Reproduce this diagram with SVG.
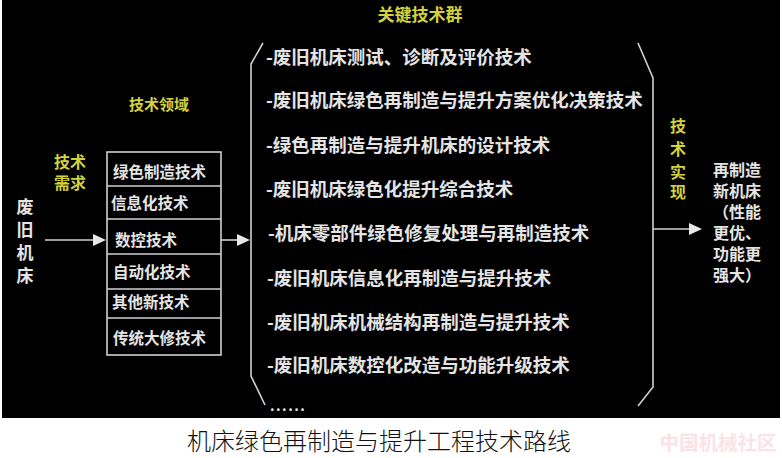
<svg xmlns="http://www.w3.org/2000/svg" width="782" height="458" viewBox="0 0 782 458">
<defs>
<style>
.w{fill:#e4e4e4;font-family:"Noto Sans CJK SC","Noto Sans",sans-serif;font-weight:700}
.y{fill:#d2d23c;font-family:"Noto Sans CJK SC","Noto Sans",sans-serif;font-weight:700}
.k{font-size:18.5px}
.t{font-size:15.5px}
.r{font-size:16px}
.ln{stroke:#d0d0d0;stroke-width:1.6;fill:none}
.ah{fill:#e8e8e8}
</style>
</defs>
<rect x="0" y="0" width="782" height="458" fill="#ffffff"/>
<rect x="2" y="0" width="778" height="418" fill="#000000"/>

<g id="title-key">
<text class="y" x="420" y="21" font-size="17" text-anchor="middle">关键技术群</text>
</g>
<g id="label-domain">
<text class="y" x="159" y="110" font-size="15" text-anchor="middle">技术领域</text>
</g>
<g id="label-demand">
<text class="y" font-size="16" text-anchor="middle"><tspan x="70" y="168">技术</tspan><tspan x="70" y="189">需求</tspan></text>
</g>
<g id="node-old">
<text class="w" font-size="17" text-anchor="middle"><tspan x="25" y="213">废</tspan><tspan x="25" y="236">旧</tspan><tspan x="25" y="259">机</tspan><tspan x="25" y="282">床</tspan></text>
</g>

<g id="node-domain">
<rect class="ln" x="107" y="152" width="114" height="203"/>
<line class="ln" x1="107" y1="186" x2="221" y2="186"/>
<line class="ln" x1="107" y1="219" x2="221" y2="219"/>
<line class="ln" x1="107" y1="254" x2="221" y2="254"/>
<line class="ln" x1="107" y1="289" x2="221" y2="289"/>
<line class="ln" x1="107" y1="318" x2="221" y2="318"/>
<text class="w t" x="113" y="178">绿色制造技术</text>
<text class="w t" x="111" y="209">信息化技术</text>
<text class="w t" x="115" y="246">数控技术</text>
<text class="w t" x="113" y="278">自动化技术</text>
<text class="w t" x="112" y="308">其他新技术</text>
<text class="w t" x="113" y="344">传统大修技术</text>
</g>

<g id="node-keytech">
<polyline class="ln" points="263,43 251,64 251,376 265,405"/>
<polyline class="ln" points="638,43 653,78 653,387 638,406"/>
<text class="w k" x="266" y="63.5">-废旧机床测试、诊断及评价技术</text>
<text class="w k" x="266" y="106.5">-废旧机床绿色再制造与提升方案优化决策技术</text>
<text class="w k" x="266" y="151.5">-绿色再制造与提升机床的设计技术</text>
<text class="w k" x="266" y="195.5">-废旧机床绿色化提升综合技术</text>
<text class="w k" x="268" y="239.5">-机床零部件绿色修复处理与再制造技术</text>
<text class="w k" x="267" y="284.5">-废旧机床信息化再制造与提升技术</text>
<text class="w k" x="267" y="328.5">-废旧机床机械结构再制造与提升技术</text>
<text class="w k" x="267" y="371.5">-废旧机床数控化改造与功能升级技术</text>
<text class="w" x="270" y="411" font-size="14" letter-spacing="1.5">......</text>
</g>

<g id="label-realize">
<text class="y" font-size="16" text-anchor="middle"><tspan x="678" y="132">技</tspan><tspan x="678" y="155">术</tspan><tspan x="678" y="178">实</tspan><tspan x="678" y="198">现</tspan></text>
</g>

<g id="node-new">
<text class="w r"><tspan x="713" y="176">再制造</tspan><tspan x="713" y="197">新机床</tspan><tspan x="713" y="218">（性能</tspan><tspan x="713" y="239">更优、</tspan><tspan x="713" y="260">功能更</tspan><tspan x="713" y="281">强大）</tspan></text>
</g>

<g id="connectors">
<line class="ln" x1="45" y1="240" x2="95" y2="240"/>
<polygon class="ah" points="106,240 93,234 93,246"/>
<line class="ln" x1="221" y1="240" x2="239" y2="240"/>
<polygon class="ah" points="250,240 237,234 237,246"/>
<line class="ln" x1="653" y1="229" x2="691" y2="229"/>
<polygon class="ah" points="702,229 689,223 689,235"/>
</g>

<g id="caption">
<text x="379" y="450" font-size="24" text-anchor="middle" fill="#111111" font-family="Noto Sans CJK SC, sans-serif" font-weight="300">机床绿色再制造与提升工程技术路线</text>
<text x="718" y="450" font-size="19.5" text-anchor="middle" fill="#fbe2e6" font-family="Noto Sans CJK SC, sans-serif" font-weight="700">中国机械社区</text>
</g>
</svg>
